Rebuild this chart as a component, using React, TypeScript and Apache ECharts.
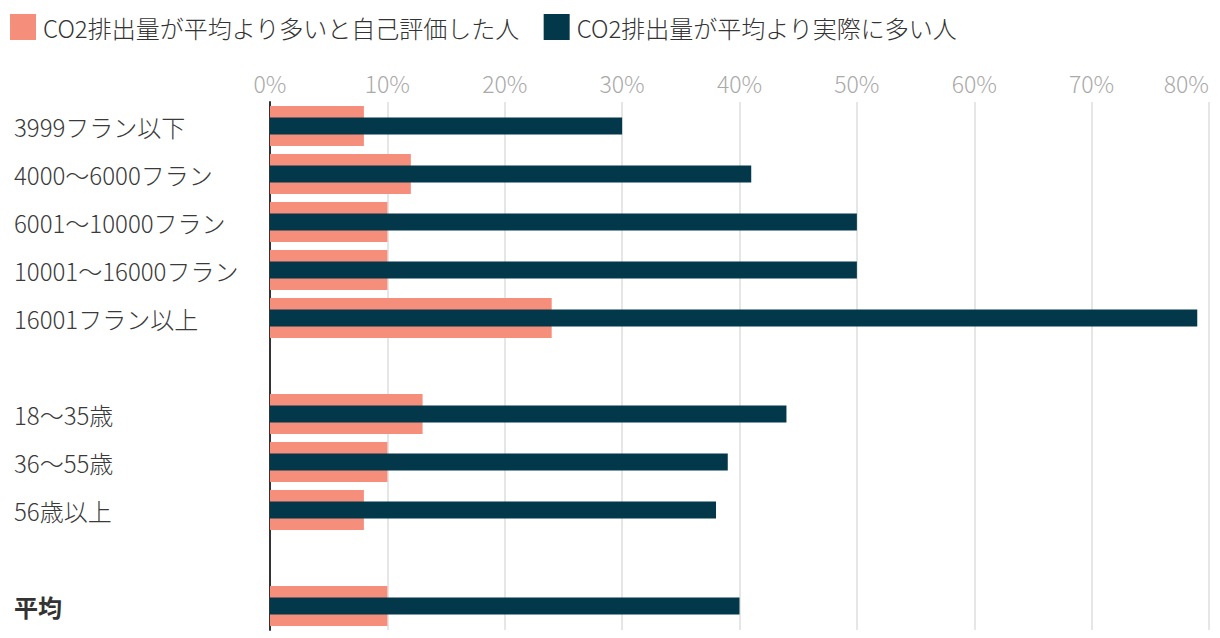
import React, { useEffect, useRef } from "react";
import * as echarts from "echarts";

const categories = [
  "3999フラン以下",
  "4000〜6000フラン",
  "6001〜10000フラン",
  "10001〜16000フラン",
  "16001フラン以上",
  "",
  "18〜35歳",
  "36〜55歳",
  "56歳以上",
  " ",
  "平均",
];
const selfAssessed: (number | null)[] = [8, 12, 10, 10, 24, null, 13, 10, 8, null, 10];
const actual: (number | null)[] = [30, 41, 50, 50, 79, null, 44, 39, 38, null, 40];
const seriesNames = [
  "CO2排出量が平均より多いと自己評価した人",
  "CO2排出量が平均より実際に多い人",
];
const xTicks = { min: 0, max: 80, interval: 10 };

const FONT = "'Noto Sans CJK JP', 'Noto Sans', sans-serif";

export default function App() {
  const ref = useRef<HTMLDivElement>(null);
  useEffect(() => {
    if (!ref.current) return;
    const chart = echarts.init(ref.current, undefined, { renderer: "svg" });
    const yData = categories.map((c) =>
      c === "平均"
        ? { value: c, textStyle: { fontWeight: "bold", color: "#333", align: "left", fontSize: 24 } }
        : c
    );
    chart.setOption({
      animation: false,
      textStyle: { fontFamily: FONT },
      legend: {
        left: 2,
        top: 6,
        padding: 0,
        itemWidth: 26,
        itemHeight: 26,
        itemGap: 24,
        icon: "rect",
        textStyle: { fontSize: 24, fontWeight: 300, color: "#333", fontFamily: FONT, padding: [0, 0, 0, 2] },
        data: seriesNames,
      },
      grid: { left: 262, right: 11, top: 94, height: 528, outerBoundsMode: "none", containLabel: false },
      xAxis: {
        type: "value",
        position: "top",
        min: xTicks.min,
        max: xTicks.max,
        interval: xTicks.interval,
        axisLine: { show: false },
        axisTick: { show: false },
        splitLine: { lineStyle: { color: "#e6e6e6", width: 2 } },
        axisLabel: {
          formatter: "{value}%",
          color: "#aaaaaa",
          fontSize: 23,
          fontWeight: 300,
          fontFamily: FONT,
          margin: 8,
          alignMaxLabel: "right",
        },
      },
      yAxis: [
        {
          type: "category",
          inverse: true,
          data: yData,
          axisLine: { lineStyle: { color: "#333", width: 2 } },
          axisTick: { show: false },
          axisLabel: {
            align: "left",
            margin: 256,
            fontSize: 24,
            fontWeight: 300,
            color: "#3a3a3a",
            fontFamily: FONT,
          },
        },
        {
          type: "category",
          inverse: true,
          position: "left",
          data: categories,
          show: false,
        },
      ],
      series: [
        {
          name: seriesNames[0],
          type: "bar",
          yAxisIndex: 0,
          data: selfAssessed,
          barWidth: 40,
          itemStyle: { color: "#f68e7c" },
        },
        {
          name: seriesNames[1],
          type: "bar",
          yAxisIndex: 1,
          data: actual,
          barWidth: 17,
          itemStyle: { color: "#03384a" },
        },
      ],
    });
    return () => chart.dispose();
  }, []);
  return <div ref={ref} style={{ width: 1212, height: 630 }} />;
}
